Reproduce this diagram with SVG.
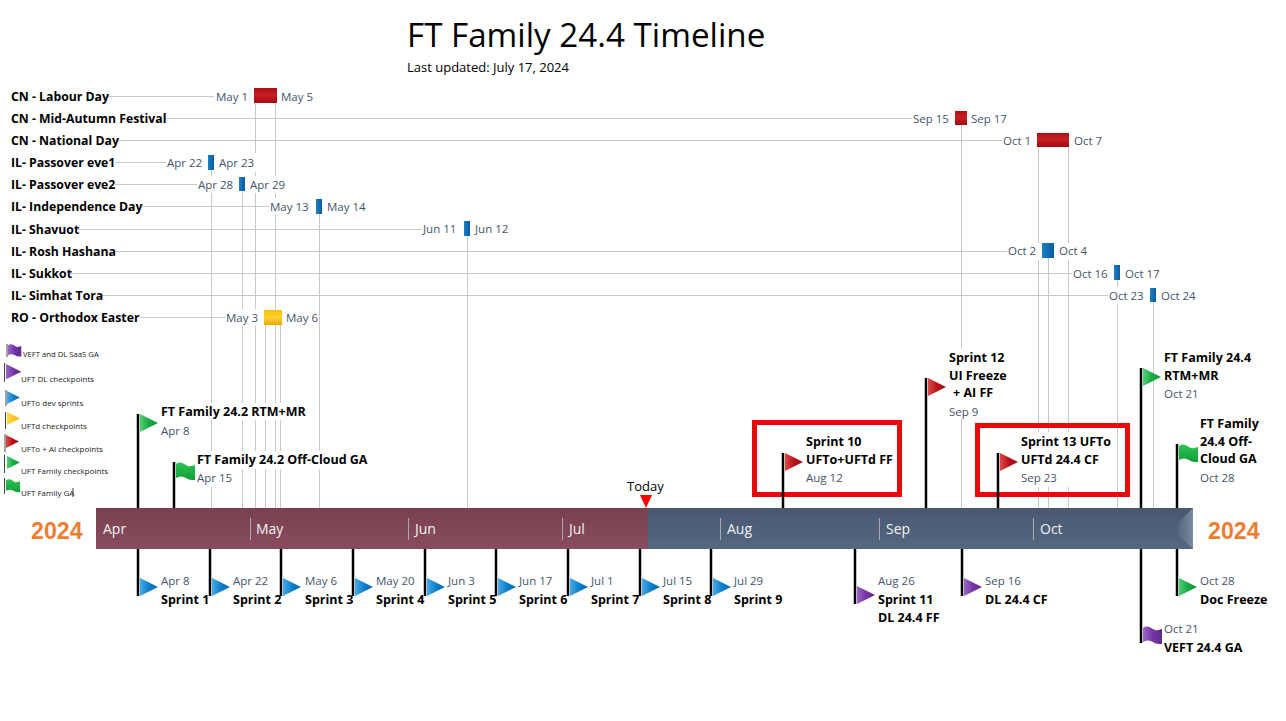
<svg xmlns="http://www.w3.org/2000/svg" xmlns:xlink="http://www.w3.org/1999/xlink" width="1286" height="721" viewBox="0 0 1286 721">
<style>
text{font-family:"Open Sans","Noto Sans",sans-serif}
.t{font-size:33.2px;fill:#000}
.u{font-size:13px;fill:#000}
.b{font-size:12.5px;font-weight:700;fill:#000}
.r{font-size:12.25px;font-weight:700;fill:#000}
.d{font-size:11.5px;fill:#44546a}
.m{font-size:14px;fill:#f2f2f2}
.y{font-family:"Liberation Sans",Arial,sans-serif;font-size:23.2px;font-weight:700;fill:#ed7d31}
.k{font-size:8px;fill:#222}
.g{stroke:#c8c8c8;stroke-width:1;fill:none}
.p{stroke:#000;stroke-width:2.5;fill:none}
.q{stroke:#444;stroke-width:1;fill:none}
.w{fill:#fff}
.box{fill:none;stroke:#e80a0a;stroke-width:5}
.sep{stroke:#a9a9b4;stroke-width:1}
.fr{fill:url(#gr)}.fg{fill:url(#gg)}.fb{fill:url(#gb)}.fv{fill:url(#gv)}.fy{fill:url(#gy)}.fw{fill:url(#gw)}
</style>
<defs>
<linearGradient id="gr" x1="0" y1="0" x2="1" y2="0"><stop offset="0" stop-color="#dc4a4a"/><stop offset=".5" stop-color="#b81218"/><stop offset="1" stop-color="#9c0c12"/></linearGradient>
<linearGradient id="gg" x1="0" y1="0" x2="1" y2="0"><stop offset="0" stop-color="#52cf73"/><stop offset=".5" stop-color="#17ab46"/><stop offset="1" stop-color="#119538"/></linearGradient>
<linearGradient id="gw" x1="0" y1="0" x2="0" y2="1"><stop offset="0" stop-color="#2ec252"/><stop offset="1" stop-color="#0f9f3a"/></linearGradient>
<linearGradient id="gb" x1="0" y1="0" x2="1" y2="0"><stop offset="0" stop-color="#45ace8"/><stop offset=".5" stop-color="#0f7ecb"/><stop offset="1" stop-color="#0a67ae"/></linearGradient>
<linearGradient id="gv" x1="0" y1="0" x2="1" y2="0"><stop offset="0" stop-color="#9c66c6"/><stop offset=".5" stop-color="#7535a5"/><stop offset="1" stop-color="#602a8c"/></linearGradient>
<linearGradient id="gy" x1="0" y1="0" x2="1" y2="0"><stop offset="0" stop-color="#ffd84a"/><stop offset="1" stop-color="#f5b400"/></linearGradient>
<linearGradient id="hr" x1="0" y1="0" x2="0" y2="1"><stop offset="0" stop-color="#a90f15"/><stop offset=".45" stop-color="#c81f26"/><stop offset=".7" stop-color="#b5151b"/><stop offset="1" stop-color="#a20d13"/></linearGradient>
<linearGradient id="hb" x1="0" y1="0" x2="1" y2="0"><stop offset="0" stop-color="#1a80c8"/><stop offset="1" stop-color="#0a5c9e"/></linearGradient>
<linearGradient id="hy" x1="0" y1="0" x2="0" y2="1"><stop offset="0" stop-color="#f7bd12"/><stop offset=".5" stop-color="#ffcf30"/><stop offset="1" stop-color="#eda800"/></linearGradient>
<linearGradient id="bm" x1="0" y1="0" x2="0" y2="1"><stop offset="0" stop-color="#7a4050"/><stop offset="1" stop-color="#874c5d"/></linearGradient>
<linearGradient id="bs" x1="0" y1="0" x2="0" y2="1"><stop offset="0" stop-color="#485870"/><stop offset="1" stop-color="#556880"/></linearGradient>
<linearGradient id="be" x1="0" y1="0" x2="1" y2="0"><stop offset="0" stop-color="#556880"/><stop offset="1" stop-color="#7a8ba0"/></linearGradient>
<polygon id="pen" points="0,0 18,9 0,18"/>
<path id="wav" d="M0 2C5-2 9 3 12 4C15 5 17 3 19 3L19 18C15 18 13 18 10 16C6 14 3 14 0 16Z"/>
</defs>
<rect width="1286" height="721" fill="#fff"/>

<g id="connectors">
<path class="g" d="M108 96.500H215M167 118.500H912M118 140.500H1002M115 162.500H166M115 184.500H197M143 206.500H269M78 229.500H422M114 251.500H1007M70 273.500H1072M101 295.500H1108M140 317.500H225"/>
<path class="g" d="M255.500 103V508M275.500 103V508M211.500 170V508M242.500 191V508M265.500 325V508M280.500 325V508M319.500 214V508M467.500 236V508M961.500 125V508M1038.500 147V508M1068.500 147V508M1048.500 258V508M1117.500 280V508M1153.500 302V508"/>
</g>

<g id="title"><text class="t" x="407" y="47">FT Family 24.4 Timeline</text><text class="u" x="407" y="72">Last updated: July 17, 2024</text></g>

<g id="hol-labour"><rect class="w" x="214" y="88" width="37" height="17"/><rect class="w" x="279" y="88" width="37" height="17"/><text class="r" x="11" y="101">CN - Labour Day</text><text class="d" x="216" y="101">May 1</text><rect x="254" y="88" width="23" height="15" fill="url(#hr)"/><text class="d" x="281" y="101">May 5</text></g>
<g id="hol-midautumn"><text class="r" x="11" y="123">CN - Mid-Autumn Festival</text><text class="d" x="913" y="123">Sep 15</text><rect x="955" y="111" width="12" height="14" fill="url(#hr)"/><text class="d" x="971" y="123">Sep 17</text></g>
<g id="hol-national"><text class="r" x="11" y="145">CN - National Day</text><text class="d" x="1003" y="145">Oct 1</text><rect x="1037" y="133" width="32" height="14" fill="url(#hr)"/><text class="d" x="1074" y="145">Oct 7</text></g>
<g id="hol-passover1"><rect class="w" x="217" y="153" width="41" height="19"/><text class="r" x="11" y="167">IL- Passover eve1</text><text class="d" x="167" y="167">Apr 22</text><rect x="208" y="155" width="6" height="15" fill="url(#hb)"/><text class="d" x="219" y="167">Apr 23</text></g>
<g id="hol-passover2"><rect class="w" x="197" y="176" width="39" height="17"/><rect class="w" x="249" y="176" width="40" height="17"/><text class="r" x="11" y="189">IL- Passover eve2</text><text class="d" x="198" y="189">Apr 28</text><rect x="239" y="177" width="6" height="14" fill="url(#hb)"/><text class="d" x="250" y="189">Apr 29</text></g>
<g id="hol-independence"><rect class="w" x="269" y="198" width="43" height="17"/><text class="r" x="11" y="211">IL- Independence Day</text><text class="d" x="270" y="211">May 13</text><rect x="316" y="199" width="6" height="15" fill="url(#hb)"/><text class="d" x="327" y="211">May 14</text></g>
<g id="hol-shavuot"><text class="r" x="11" y="234">IL- Shavuot</text><text class="d" x="423" y="233">Jun 11</text><rect x="464" y="221" width="6" height="15" fill="url(#hb)"/><text class="d" x="475" y="233">Jun 12</text></g>
<g id="hol-rosh"><rect class="w" x="1007" y="243" width="33" height="17"/><rect class="w" x="1058" y="243" width="31" height="17"/><text class="r" x="11" y="256">IL- Rosh Hashana</text><text class="d" x="1008" y="255">Oct 2</text><rect x="1042" y="243" width="12" height="15" fill="url(#hb)"/><text class="d" x="1059" y="255">Oct 4</text></g>
<g id="hol-sukkot"><text class="r" x="11" y="278">IL- Sukkot</text><text class="d" x="1073" y="278">Oct 16</text><rect x="1114" y="265" width="6" height="15" fill="url(#hb)"/><text class="d" x="1125" y="278">Oct 17</text></g>
<g id="hol-simhat"><rect class="w" x="1108" y="287" width="39" height="17"/><text class="r" x="11" y="300">IL- Simhat Tora</text><text class="d" x="1109" y="300">Oct 23</text><rect x="1150" y="288" width="6" height="14" fill="url(#hb)"/><text class="d" x="1161" y="300">Oct 24</text></g>
<g id="hol-orthodox"><rect class="w" x="225" y="309" width="36" height="17"/><text class="r" x="11" y="322">RO - Orthodox Easter</text><text class="d" x="226" y="322">May 3</text><rect x="264" y="310" width="18" height="15" fill="url(#hy)"/><text class="d" x="286" y="322">May 6</text></g>

<g id="legend">
<path class="q" d="M7 344V357M4.500 363V382M6 390V406M5.500 412V429M5 434V452M4.500 455V473M4.500 478V494M73 488V497"/>
<use href="#wav" class="fv" transform="translate(8 344) scale(.7)"/><text class="k" x="23" y="357" style="font-size:7.7px">VEFT and DL SaaS GA</text>
<use href="#pen" class="fv" transform="translate(6 364) scale(.85)"/><text class="k" x="21" y="382">UFT DL checkpoints</text>
<use href="#pen" class="fb" transform="translate(7 391) scale(.72)"/><text class="k" x="21" y="406">UFTo dev sprints</text>
<use href="#pen" class="fy" transform="translate(7 412) scale(.72)"/><text class="k" x="21" y="429">UFTd checkpoints</text>
<use href="#pen" class="fr" transform="translate(6 435) scale(.72)"/><text class="k" x="21" y="452">UFTo + AI checkpoints</text>
<use href="#pen" class="fg" transform="translate(7 456) scale(.72)"/><text class="k" x="21" y="474">UFT Family checkpoints</text>
<use href="#wav" class="fw" transform="translate(6 479) scale(.74)"/><text class="k" x="21" y="496">UFT Family GA</text>
</g>

<g id="top-apr8"><rect class="w" x="160" y="403" width="150" height="17"/><rect class="w" x="160" y="420" width="32" height="19"/><path class="p" d="M138 414V508"/><use href="#pen" class="fg" x="140" y="414"/><text class="b" x="161" y="416">FT Family 24.2 RTM+MR</text><text class="d" x="161" y="435">Apr 8</text></g>
<g id="top-apr15"><rect class="w" x="196" y="451" width="173" height="18"/><rect class="w" x="196" y="469" width="38" height="18"/><path class="p" d="M174 462V508"/><use href="#wav" class="fw" x="176" y="462"/><text class="b" x="197" y="464">FT Family 24.2 Off-Cloud GA</text><text class="d" x="197" y="482">Apr 15</text></g>
<g id="top-aug12"><rect class="box" x="754.500" y="422.500" width="145" height="72"/><path class="p" d="M783 453V508"/><use href="#pen" class="fr" x="785" y="453"/><text class="b" x="806" y="446">Sprint 10</text><text class="b" x="806" y="464">UFTo+UFTd FF</text><text class="d" x="806" y="482">Aug 12</text></g>
<g id="top-sep9"><rect class="w" x="948" y="349" width="60" height="70"/><path class="p" d="M926 378V508"/><use href="#pen" class="fr" x="928" y="378"/><text class="b" x="949" y="362">Sprint 12</text><text class="b" x="949" y="380">UI Freeze</text><text class="b" x="953" y="397">+ AI FF</text><text class="d" x="949" y="416">Sep 9</text></g>
<g id="top-sep23"><rect class="w" x="1020" y="432" width="90" height="55"/><rect class="box" x="977.500" y="425.500" width="150" height="69"/><path class="p" d="M998 453V508"/><use href="#pen" class="fr" x="1000" y="453"/><text class="b" x="1021" y="446">Sprint 13 UFTo</text><text class="b" x="1021" y="464">UFTd 24.4 CF</text><text class="d" x="1021" y="482">Sep 23</text></g>
<g id="top-oct21"><rect class="w" x="1163" y="349" width="92" height="53"/><path class="p" d="M1141 368V508"/><use href="#pen" class="fg" x="1143" y="368"/><text class="b" x="1164" y="362">FT Family 24.4</text><text class="b" x="1164" y="380">RTM+MR</text><text class="d" x="1164" y="398">Oct 21</text></g>
<g id="top-oct28"><path class="p" d="M1177 444V508"/><use href="#wav" class="fw" x="1179" y="444"/><text class="b" x="1200" y="428">FT Family</text><text class="b" x="1200" y="446">24.4 Off-</text><text class="b" x="1200" y="463">Cloud GA</text><text class="d" x="1200" y="482">Oct 28</text></g>

<g id="timeline">
<rect x="96" y="508" width="552" height="41" fill="url(#bm)"/>
<rect x="648" y="508" width="545" height="41" fill="url(#bs)"/>
<polygon points="1178,523 1193,508 1193,549 1178,535" fill="url(#be)"/>
<path class="sep" d="M250.500 518V540M408.500 518V540M562.500 518V540M720.500 518V540M879.500 518V540M1033.500 518V540"/>
<text class="m" x="103" y="534">Apr</text><text class="m" x="256" y="534">May</text><text class="m" x="415" y="534">Jun</text><text class="m" x="569" y="534">Jul</text><text class="m" x="727" y="534">Aug</text><text class="m" x="886" y="534">Sep</text><text class="m" x="1040" y="534">Oct</text>
</g>
<g id="year-left"><text class="y" x="31" y="539">2024</text></g>
<g id="year-right"><text class="y" x="1208" y="539">2024</text></g>
<g id="today"><text class="u" x="627" y="491">Today</text><polygon points="640,495 652,495 646,508" fill="#f00"/></g>

<g id="s1"><path class="p" d="M138 549V596"/><use href="#pen" class="fb" x="140" y="578"/><text class="d" x="161" y="585">Apr 8</text><text class="b" x="161" y="604">Sprint 1</text></g>
<g id="s2"><path class="p" d="M210 549V596"/><use href="#pen" class="fb" x="212" y="578"/><text class="d" x="233" y="585">Apr 22</text><text class="b" x="233" y="604">Sprint 2</text></g>
<g id="s3"><path class="p" d="M281 549V596"/><use href="#pen" class="fb" x="283" y="578"/><text class="d" x="305" y="585">May 6</text><text class="b" x="305" y="604">Sprint 3</text></g>
<g id="s4"><path class="p" d="M353 549V596"/><use href="#pen" class="fb" x="355" y="578"/><text class="d" x="376" y="585">May 20</text><text class="b" x="376" y="604">Sprint 4</text></g>
<g id="s5"><path class="p" d="M425 549V596"/><use href="#pen" class="fb" x="427" y="578"/><text class="d" x="448" y="585">Jun 3</text><text class="b" x="448" y="604">Sprint 5</text></g>
<g id="s6"><path class="p" d="M496 549V596"/><use href="#pen" class="fb" x="498" y="578"/><text class="d" x="519" y="585">Jun 17</text><text class="b" x="519" y="604">Sprint 6</text></g>
<g id="s7"><path class="p" d="M568 549V596"/><use href="#pen" class="fb" x="570" y="578"/><text class="d" x="591" y="585">Jul 1</text><text class="b" x="591" y="604">Sprint 7</text></g>
<g id="s8"><path class="p" d="M640 549V596"/><use href="#pen" class="fb" x="642" y="578"/><text class="d" x="663" y="585">Jul 15</text><text class="b" x="663" y="604">Sprint 8</text></g>
<g id="s9"><path class="p" d="M711 549V596"/><use href="#pen" class="fb" x="713" y="578"/><text class="d" x="734" y="585">Jul 29</text><text class="b" x="734" y="604">Sprint 9</text></g>
<g id="s11"><path class="p" d="M855 549V604"/><use href="#pen" class="fv" x="857" y="586"/><text class="d" x="878" y="585">Aug 26</text><text class="b" x="878" y="604">Sprint 11</text><text class="b" x="878" y="622">DL 24.4 FF</text></g>
<g id="dlcf"><path class="p" d="M962 549V596"/><use href="#pen" class="fv" x="964" y="578"/><text class="d" x="985" y="585">Sep 16</text><text class="b" x="985" y="604">DL 24.4 CF</text></g>
<g id="vept"><path class="p" d="M1141 549V643"/><use href="#wav" class="fv" x="1143" y="626"/><text class="d" x="1164" y="633">Oct 21</text><text class="b" x="1164" y="652">VEFT 24.4 GA</text></g>
<g id="doc"><path class="p" d="M1177 549V596"/><use href="#pen" class="fg" x="1179" y="578"/><text class="d" x="1200" y="585">Oct 28</text><text class="b" x="1200" y="604">Doc Freeze</text></g>
</svg>
